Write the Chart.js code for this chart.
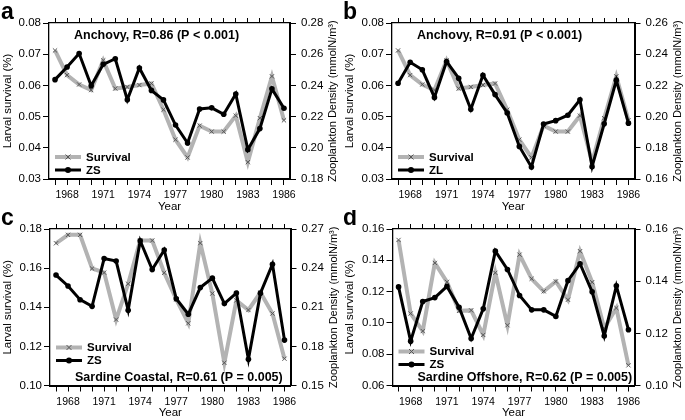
<!DOCTYPE html>
<html>
<head>
<meta charset="utf-8">
<script src="https://cdn.jsdelivr.net/npm/chart.js@4.4.0/dist/chart.umd.min.js"></script>
<style>
  body { margin: 0; background: #fff; }
  #wrap { position: relative; width: 685px; height: 420px; overflow: hidden; background: #fff; }
  #wrap canvas { position: absolute; background: #fff; }
</style>
</head>
<body>
<div id="wrap">
  <canvas id="chartA" style="left:0;top:0"></canvas>
  <canvas id="chartB" style="left:342px;top:0"></canvas>
  <canvas id="chartC" style="left:0;top:210px"></canvas>
  <canvas id="chartD" style="left:342px;top:210px"></canvas>
</div>
<script>
// ---- data ----
const years = ['1967','1968','1969','1970','1971','1972','1973','1974','1975','1976',
               '1977','1978','1979','1980','1981','1982','1983','1984','1985','1986'];
const yearTicks = ['1968','1971','1974','1977','1980','1983','1986'];

const anchovySurvival = [0.0712, 0.0633, 0.0603, 0.0585, 0.0680, 0.0590, 0.0595, 0.0601, 0.0606, 0.0522,
                         0.0426, 0.0369, 0.0471, 0.0452, 0.0452, 0.0503, 0.0354, 0.0495, 0.0629, 0.0488];
const anchovyZS = [0.2437, 0.2518, 0.2604, 0.2398, 0.2535, 0.2571, 0.2308, 0.2512, 0.2368, 0.2307,
                   0.2146, 0.2031, 0.2249, 0.2256, 0.2215, 0.2345, 0.1988, 0.2123, 0.2378, 0.2254];
const anchovyZL = [0.2214, 0.2348, 0.2300, 0.2123, 0.2353, 0.2246, 0.2047, 0.2265, 0.2141, 0.2023,
                   0.1809, 0.1677, 0.1952, 0.1974, 0.2009, 0.2108, 0.1679, 0.1954, 0.2233, 0.1958];
const coastalSurvival = [0.1727, 0.1770, 0.1770, 0.1598, 0.1577, 0.1337, 0.1520, 0.1741, 0.1741, 0.1576,
                         0.1440, 0.1318, 0.1728, 0.1470, 0.1116, 0.1435, 0.1386, 0.1475, 0.1368, 0.1137];
const coastalZS = [0.2347, 0.2263, 0.2158, 0.2107, 0.2473, 0.2454, 0.2077, 0.2610, 0.2389, 0.2539,
                   0.2165, 0.2046, 0.2251, 0.2323, 0.2128, 0.2209, 0.1701, 0.2208, 0.2430, 0.1848];
const offshoreSurvival = [0.1530, 0.1060, 0.0948, 0.1383, 0.1262, 0.1077, 0.1080, 0.0923, 0.1320, 0.0985,
                          0.1436, 0.1282, 0.1202, 0.1265, 0.1148, 0.1458, 0.1260, 0.0965, 0.1095, 0.0729];
const offshoreZS = [0.1378, 0.1170, 0.1322, 0.1337, 0.1380, 0.1300, 0.1180, 0.1294, 0.1515, 0.1445,
                    0.1345, 0.1290, 0.1290, 0.1265, 0.1402, 0.1467, 0.1359, 0.1190, 0.1382, 0.1214];

const FONT = "'Liberation Sans', Arial, Helvetica, sans-serif";
const GRAY = '#b3b3b3';

// draws panel letter, in-box title, legend and the right axis title
const panelDecor = {
    id: 'panelDecor',
    afterDraw(chart, args, opts) {
        const ctx = chart.ctx;
        const a = chart.chartArea;
        ctx.save();
        ctx.fillStyle = '#000';

        ctx.font = 'bold 23px ' + FONT;
        ctx.textAlign = 'left';
        ctx.textBaseline = 'alphabetic';
        ctx.fillText(opts.letter, 1, a.top - 4.5);

        ctx.font = 'bold 12.5px ' + FONT;
        ctx.fillText(opts.title, a.left + 25, opts.titleAtBottom ? a.bottom - 5 : a.top + 16);

        // legend
        const lx = a.left + 6;
        const rows = [
            { text: 'Survival', y: a.bottom - opts.legendY[0], gray: true },
            { text: opts.zooLabel, y: a.bottom - opts.legendY[1], gray: false }
        ];
        ctx.font = 'bold 11.5px ' + FONT;
        ctx.textBaseline = 'middle';
        rows.forEach(r => {
            ctx.beginPath();
            ctx.moveTo(lx, r.y);
            ctx.lineTo(lx + 26, r.y);
            ctx.lineWidth = r.gray ? 4 : 3;
            ctx.strokeStyle = r.gray ? GRAY : '#000';
            ctx.stroke();
            const mx = lx + 13;
            if (r.gray) {
                ctx.beginPath();
                ctx.moveTo(mx - 2.5, r.y - 2.5); ctx.lineTo(mx + 2.5, r.y + 2.5);
                ctx.moveTo(mx + 2.5, r.y - 2.5); ctx.lineTo(mx - 2.5, r.y + 2.5);
                ctx.lineWidth = 1;
                ctx.strokeStyle = '#555';
                ctx.stroke();
            } else {
                ctx.beginPath();
                ctx.arc(mx, r.y, 3, 0, Math.PI * 2);
                ctx.fill();
            }
            ctx.fillText(r.text, lx + 31, r.y + 0.5);
        });

        // right axis title, reads bottom to top like the left one
        ctx.font = '11px ' + FONT;
        ctx.textAlign = 'center';
        ctx.translate(a.right + 43, (a.top + a.bottom) / 2);
        ctx.rotate(-Math.PI / 2);
        ctx.fillText('Zooplankton Density (mmolN/m\u00b3)', 0, 0);
        ctx.restore();
    }
};

function makePanel(id, w, h, box, p) {
    const canvas = document.getElementById(id);
    canvas.width = w;
    canvas.height = h;
    canvas.style.width = w + 'px';
    canvas.style.height = h + 'px';

    const yearFont = { family: FONT, size: 10.5 };
    const valueFont = { family: FONT, size: 11.5 };
    const fmt = v => Number(v).toFixed(2);

    const config = {
        type: 'line',
        data: {
            labels: years,
            datasets: [{
                label: p.zooLabel,
                data: p.zoo,
                yAxisID: 'y1',
                borderColor: '#000',
                borderWidth: 3,
                pointStyle: 'circle',
                pointRadius: 2.8,
                pointBackgroundColor: '#000',
                pointBorderColor: '#000',
                pointBorderWidth: 0,
                tension: 0,
                order: 0
            }, {
                label: 'Survival',
                data: p.survival,
                yAxisID: 'y',
                borderColor: GRAY,
                borderWidth: 4,
                pointStyle: 'crossRot',
                pointRadius: 3,
                pointBorderColor: '#555',
                pointBorderWidth: 1,
                tension: 0,
                order: 1
            }]
        },
        options: {
            responsive: false,
            animation: false,
            layout: { padding: 0 },
            plugins: {
                legend: { display: false },
                tooltip: { enabled: false },
                panelDecor: p
            },
            scales: {
                x: {
                    type: 'category',
                    position: 'bottom',
                    offset: true,
                    grid: { drawOnChartArea: false, tickLength: 6, color: '#000' },
                    border: { color: '#000', width: 2 },
                    ticks: {
                        autoSkip: false, maxRotation: 0, padding: 4, color: '#000', font: yearFont,
                        callback: function (v) {
                            const lab = this.getLabelForValue(v);
                            return yearTicks.includes(lab) ? lab : '';
                        }
                    },
                    title: { display: true, text: 'Year', color: '#000', font: { family: FONT, size: 11.5 }, padding: 0 },
                    afterFit: s => { s.height = h - box.bottom; }
                },
                x2: {
                    type: 'category',
                    position: 'top',
                    offset: true,
                    labels: years,
                    grid: { drawOnChartArea: false, tickLength: 5, color: '#000' },
                    border: { color: '#000', width: 1.3 },
                    ticks: { display: false },
                    afterFit: s => { s.height = box.top; }
                },
                y: {
                    position: 'left',
                    min: p.left[0], max: p.left[1],
                    grid: { drawOnChartArea: false, tickLength: 6, color: '#000' },
                    border: { color: '#000', width: 1.3 },
                    ticks: { stepSize: p.left[2], padding: 2, color: '#000', font: valueFont, callback: fmt },
                    title: { display: true, text: 'Larval survival (%)', color: '#000', font: { family: FONT, size: 11.5 }, padding: { top: 1, bottom: 0 } },
                    afterFit: s => { s.width = box.left; }
                },
                y1: {
                    position: 'right',
                    min: p.right[0], max: p.right[1],
                    grid: { drawOnChartArea: false, tickLength: 6, color: '#000' },
                    border: { color: '#000', width: 2 },
                    ticks: { stepSize: p.right[2], padding: 5, color: '#000', font: valueFont, callback: fmt },
                    afterFit: s => { s.width = w - box.right; }
                }
            }
        },
        plugins: [panelDecor]
    };
    return new Chart(canvas.getContext('2d'), config);
}

makePanel('chartA', 342, 214, { left: 49, right: 290, top: 23, bottom: 179 }, {
    letter: 'a', title: 'Anchovy, R=0.86 (P < 0.001)', zooLabel: 'ZS',
    survival: anchovySurvival, zoo: anchovyZS,
    left: [0.03, 0.08, 0.01], right: [0.18, 0.28, 0.02], legendY: [22, 9]
});
makePanel('chartB', 343, 214, { left: 50, right: 292.5, top: 23, bottom: 179 }, {
    letter: 'b', title: 'Anchovy, R=0.91 (P < 0.001)', zooLabel: 'ZL',
    survival: anchovySurvival, zoo: anchovyZL,
    left: [0.03, 0.08, 0.01], right: [0.16, 0.26, 0.02], legendY: [22, 9]
});
makePanel('chartC', 342, 210, { left: 50, right: 290.5, top: 19, bottom: 175.5 }, {
    letter: 'c', title: 'Sardine Coastal, R=0.61 (P = 0.005)', zooLabel: 'ZS', titleAtBottom: true,
    survival: coastalSurvival, zoo: coastalZS,
    left: [0.10, 0.18, 0.02], right: [0.15, 0.27, 0.03], legendY: [38, 25]
});
makePanel('chartD', 343, 210, { left: 50.5, right: 292.5, top: 19, bottom: 175.5 }, {
    letter: 'd', title: 'Sardine Offshore, R=0.62 (P = 0.005)', zooLabel: 'ZS', titleAtBottom: true,
    survival: offshoreSurvival, zoo: offshoreZS,
    left: [0.06, 0.16, 0.02], right: [0.10, 0.16, 0.02], legendY: [34, 21]
});
</script>
</body>
</html>
